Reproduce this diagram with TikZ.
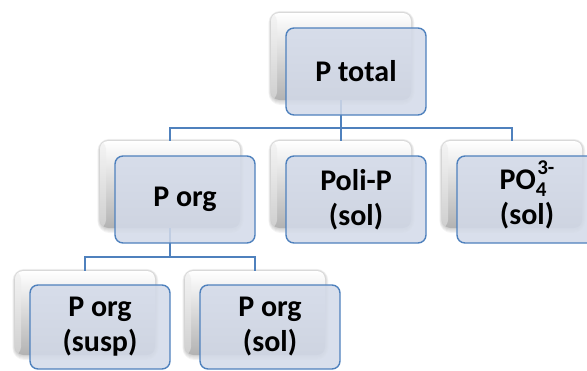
\documentclass[tikz,border=0pt]{standalone}
\usepackage{fontspec}
\setmainfont{Carlito}
\usetikzlibrary{backgrounds}

\definecolor{boxblue}{HTML}{4F81BD}
\definecolor{boxfill}{HTML}{D3DAE9}

% stacked subscript / superscript for ion formulas
\newcommand\ionscripts[2]{%
  \smash{\makebox[0pt][l]{\raisebox{-0.24em}{\fontsize{21}{21}\selectfont #1}}%
  \hspace{0.05em}\raisebox{0.5em}{\fontsize{21}{21}\selectfont #2}}}

\tikzset{
  card/.style={rectangle, rounded corners=8pt,
    minimum width=140pt, minimum height=#1, inner sep=0pt,
    top color=white, middle color=white, bottom color=black!30,
    path picture={\shade[left color=black!8, right color=white, opacity=0.5]
      (path picture bounding box.south west)
      rectangle ([xshift=6pt]path picture bounding box.north west);}},
  card/.default=87pt,
  face/.style={rectangle, rounded corners=8pt, draw=boxblue,
    line width=1.4pt, fill=boxfill, fill opacity=0.86, text opacity=1,
    minimum width=140pt, minimum height=#1, inner sep=0pt,
    align=center, font=\fontsize{30}{35}\selectfont\bfseries},
  face/.default=87pt,
  link/.style={draw=boxblue, line width=1.5pt},
  halo/.style={fill=black, fill opacity=0.045}
}

\begin{document}
\begin{tikzpicture}[x=1pt, y=-1pt]
  \useasboundingbox (0,0) rectangle (587,370);
  \clip (0,0) rectangle (587,370);

  % back cards
  \node[card] (ptotB) at (341,56.5) {};
  \node[card] (porgB) at (170,184.5) {};
  \node[card] (poliB) at (341,184.5) {};
  \node[card] (po4B)  at (512,184.5) {};
  \node[card=84pt] (suspB) at (85,313) {};
  \node[card=84pt] (solB)  at (255,313) {};

  % soft shadow behind each card
  \begin{scope}[on background layer]
    \foreach \c in {ptotB,porgB,poliB,po4B,suspB,solB}
      \foreach \d in {1,2,3,4}
        \fill[halo, rounded corners={8+\d}]
          ([xshift={-0.6*\d}, yshift={0.5*\d}]\c.north west)
          rectangle ([xshift={0.8*\d}, yshift={-1.2*\d}]\c.south east);
  \end{scope}

  % tree connectors
  \draw[link] (ptotB.south) -- ++(0,28) -| (porgB.north);
  \draw[link] (ptotB.south) -- ++(0,28) -| (poliB.north);
  \draw[link] (ptotB.south) -- ++(0,28) -| (po4B.north);
  \draw[link] (porgB.south) -- ++(0,29) -| (suspB.north);
  \draw[link] (porgB.south) -- ++(0,29) -| (solB.north);

  % front faces with labels
  \node[face] (ptot) at (356,71.5) {P total};
  \node[face] (porg) at (185,199.5) {P org};
  \node[face] (poli) at (356,199.5) {Poli-P\\(sol)};
  \node[face] (po4)  at (527,199.5) {PO\ionscripts{4}{3-}\\(sol)};
  \node[face=84pt] (susp) at (100,327) {P org\\(susp)};
  \node[face=84pt] (sol)  at (270,327) {P org\\(sol)};
\end{tikzpicture}
\end{document}
